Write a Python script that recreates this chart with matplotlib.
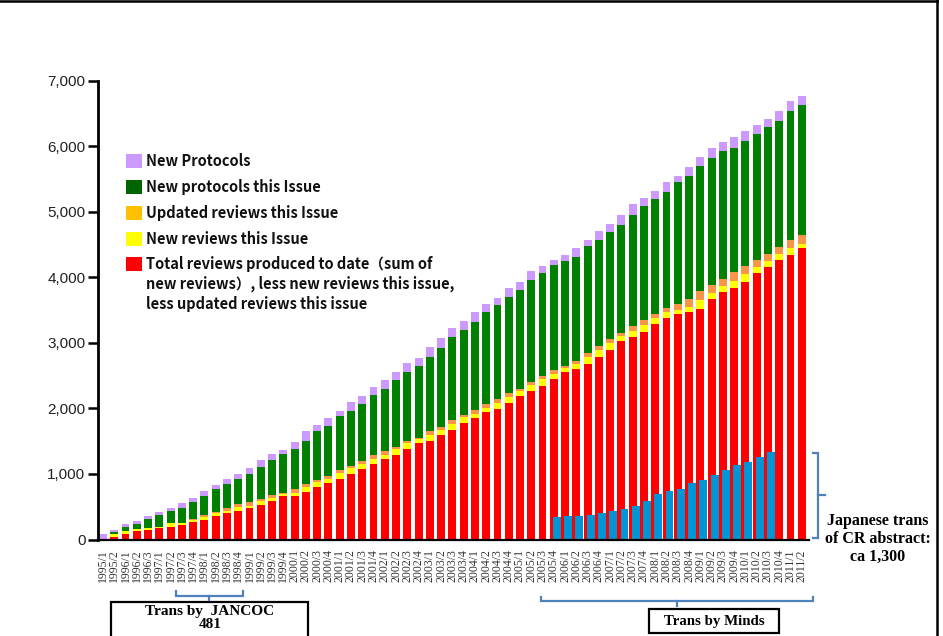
import numpy as np
import matplotlib
matplotlib.use("Agg")
import matplotlib.pyplot as plt
from matplotlib.patches import Rectangle
from matplotlib.lines import Line2D

# ---------------- data ----------------
categories = [
    "1995/1", "1995/2", "1996/1", "1996/2", "1996/3",
    "1997/1", "1997/2", "1997/3", "1997/4",
    "1998/1", "1998/2", "1998/3", "1998/4",
    "1999/1", "1999/2", "1999/3", "1999/4",
    "2000/1", "2000/2", "2000/3", "2000/4",
    "2001/1", "2001/2", "2001/3", "2001/4",
    "2002/1", "2002/2", "2002/3", "2002/4",
    "2003/1", "2003/2", "2003/3", "2003/4",
    "2004/1", "2004/2", "2004/3", "2004/4",
    "2005/1", "2005/2", "2005/3", "2005/4",
    "2006/1", "2006/2", "2006/3", "2006/4",
    "2007/1", "2007/2", "2007/3", "2007/4",
    "2008/1", "2008/2", "2008/3", "2008/4",
    "2009/1", "2009/2", "2009/3", "2009/4",
    "2010/1", "2010/2", "2010/3", "2010/4",
    "2011/1", "2011/2",
]

total_reviews = [0, 43, 89, 129, 145, 180, 196, 221, 267, 297, 358, 404, 434, 480, 526, 587,
                 663, 663, 724, 800, 861, 922, 999, 1075, 1151, 1228, 1289, 1380, 1472, 1502,
                 1594, 1670, 1777, 1853, 1944, 1990, 2081, 2188, 2265, 2341, 2448, 2554, 2600,
                 2676, 2783, 2890, 3027, 3088, 3164, 3286, 3378, 3439, 3469, 3515, 3668, 3774,
                 3836, 3927, 4064, 4156, 4263, 4339, 4446]
new_reviews = [5, 46, 40, 31, 30, 16, 55, 30, 30, 46, 46, 30, 61, 31, 61, 46, 31, 46, 76, 77,
               61, 92, 91, 76, 77, 61, 91, 92, 61, 92, 76, 92, 91, 61, 61, 91, 92, 77, 91, 107,
               76, 61, 76, 107, 107, 107, 76, 92, 107, 92, 91, 61, 77, 137, 91, 92, 106, 122,
               92, 91, 91, 107, 61]
updated_reviews = [10, 0, 0, 0, 0, 0, 0, 0, 15, 30, 15, 46, 46, 61, 30, 45, 15, 61, 46, 30, 46,
                   46, 31, 46, 61, 61, 31, 30, 15, 61, 46, 61, 31, 61, 61, 62, 61, 30, 46, 45,
                   61, 31, 46, 61, 61, 61, 46, 76, 76, 61, 61, 91, 122, 138, 122, 107, 138, 122,
                   107, 107, 107, 121, 137]
new_protocols_issue = [0, 25, 61, 76, 137, 177, 183, 229, 260, 290, 351, 366, 381, 427, 489,
                       534, 595, 610, 656, 748, 763, 823, 839, 869, 915, 945, 1021, 1052, 1098,
                       1128, 1204, 1265, 1296, 1342, 1403, 1433, 1464, 1510, 1555, 1571, 1601,
                       1601, 1586, 1632, 1616, 1632, 1648, 1693, 1739, 1754, 1770, 1861, 1876,
                       1907, 1937, 1952, 1891, 1907, 1921, 1937, 1921, 1968, 1983]
new_protocols = [75, 31, 46, 46, 51, 51, 51, 76, 66, 76, 61, 76, 77, 91, 106, 92, 61, 107, 153,
                 91, 122, 77, 137, 122, 122, 137, 122, 137, 122, 152, 153, 137, 137, 152, 122,
                 107, 137, 122, 138, 107, 77, 92, 138, 91, 138, 122, 152, 168, 122, 122, 152,
                 92, 137, 137, 153, 137, 168, 152, 138, 122, 153, 153, 137]

jp_trans_start = "2005/4"
jp_trans = [343, 358, 358, 373, 404, 434, 465, 511, 587, 694, 740, 770, 862, 907, 983, 1060,
            1136, 1182, 1258, 1334]

y_ticks = [0, 1000, 2000, 3000, 4000, 5000, 6000, 7000]

series_labels = [
    "New Protocols",
    "New protocols this Issue",
    "Updated reviews this Issue",
    "New reviews this Issue",
    "Total reviews produced to date（sum of\nnew reviews）, less new reviews this issue,\nless updated reviews this issue",
]

# ---------------- figure ----------------
W, H = 943, 636
fig = plt.figure(figsize=(W / 100, H / 100), dpi=100)


def fx(px):
    return px / W


def fy(py):
    return 1 - py / H


ax_left, ax_right, ax_bottom, ax_top = 98, 809, 539.5, 80.5
ax = fig.add_axes([fx(ax_left), fy(ax_bottom), (ax_right - ax_left) / W, (ax_bottom - ax_top) / H])

x = np.arange(len(categories))
step = 11.27
ax.set_xlim((ax_left - 103) / step, (ax_right - 103) / step)
ax.set_ylim(0, 7000)

bw = 0.7
c_red, c_yel, c_ora, c_grn, c_pur, c_blue = "#FF0000", "#FFFF00", "#F79646", "#008000", "#CC99FF", "#0096D6"

b = np.zeros(len(categories))
for vals, col in [(total_reviews, c_red), (new_reviews, c_yel), (updated_reviews, c_ora),
                  (new_protocols_issue, c_grn), (new_protocols, c_pur)]:
    v = np.array(vals, dtype=float)
    ax.bar(x, v, bw, bottom=b, color=col, linewidth=0, zorder=2)
    b = b + v

i0 = categories.index(jp_trans_start)
xb = np.arange(i0, i0 + len(jp_trans))
ax.bar(xb + 0.27, jp_trans, bw, color=c_blue, linewidth=0, zorder=3)

# axes styling
for s in ["top", "right"]:
    ax.spines[s].set_visible(False)
ax.spines["left"].set_linewidth(2.0)
ax.spines["bottom"].set_linewidth(1.6)
ax.spines["left"].set_zorder(5)
ax.spines["bottom"].set_zorder(5)

ax.set_yticks(y_ticks)
ax.set_yticklabels([f"{v:,}" for v in y_ticks], family="Liberation Sans", fontsize=11, color="#222222")
ax.tick_params(axis="y", direction="out", length=7, width=1.8, pad=2)

ax.set_xticks(x)
ax.set_xticklabels(categories, rotation=90, family="Liberation Serif", fontsize=8.5, color="#333333")
ax.tick_params(axis="x", length=0, pad=7)

# ---------------- legend (manual) ----------------
leg_font = ["Noto Sans CJK JP", "DejaVu Sans"]
leg_colors = ["#CC99FF", "#006400", "#FFC000", "#FFFF00", "#FF0000"]
rows = [161, 187, 213, 239, 264]
for lab, col, ry in zip(series_labels, leg_colors, rows):
    fig.add_artist(Rectangle((fx(126), fy(ry + 7)), 16 / W, 14 / H, transform=fig.transFigure,
                             facecolor=col, edgecolor="none"))
    if "\n" in lab:
        fig.text(fx(146), fy(ry - 8), lab, ha="left", va="top", fontsize=10.5, family=leg_font,
                 fontweight="bold", linespacing=1.3, color="#111111")
    else:
        fig.text(fx(146), fy(ry), lab, ha="left", va="center", fontsize=10.5, family=leg_font,
                 fontweight="bold", color="#111111")

# ---------------- annotations ----------------
bc = "#4F81BD"
serif = "Liberation Serif"


def fline(xs, ys, color=bc, lw=1.6):
    fig.add_artist(Line2D([fx(v) for v in xs], [fy(v) for v in ys], transform=fig.transFigure,
                          color=color, linewidth=lw, solid_joinstyle="miter"))


# right brace for Japanese translation
fline([813, 818, 818, 813], [453, 453, 538, 538])
fline([818, 825], [495, 495])
fig.text(fx(878), fy(539), "Japanese trans\nof CR abstract:\nca 1,300", ha="center", va="center",
         fontsize=11.5, family=serif, fontweight="bold", linespacing=1.15)

# JANCOC bracket and box
fline([176, 176, 243, 243], [591, 595.5, 595.5, 591])
fline([209, 209], [595.5, 600])
fig.add_artist(Rectangle((fx(111), fy(645)), (308 - 111) / W, (645 - 602) / H, transform=fig.transFigure,
                         facecolor="white", edgecolor="black", linewidth=1.6))
fig.text(fx(210), fy(612), "Trans by  JANCOC", ha="center", va="center", fontsize=11,
         family=serif, fontweight="bold")
fig.text(fx(210), fy(625), "481", ha="center", va="center", fontsize=11,
         family=serif, fontweight="bold")

# Minds bracket and box
fline([541, 541, 813, 813], [597, 601, 601, 597])
fline([677, 677], [601, 606])
fig.add_artist(Rectangle((fx(649), fy(633)), (779 - 649) / W, (633 - 609) / H, transform=fig.transFigure,
                         facecolor="white", edgecolor="black", linewidth=1.6))
fig.text(fx(714), fy(621), "Trans by Minds", ha="center", va="center", fontsize=10.7,
         family=serif, fontweight="bold")

# outer frame fragments
fline([0, 937], [1, 1], color="black", lw=1.8)
fline([937, 937], [0, 636], color="black", lw=1.8)

fig.savefig("out.png", dpi=100)
